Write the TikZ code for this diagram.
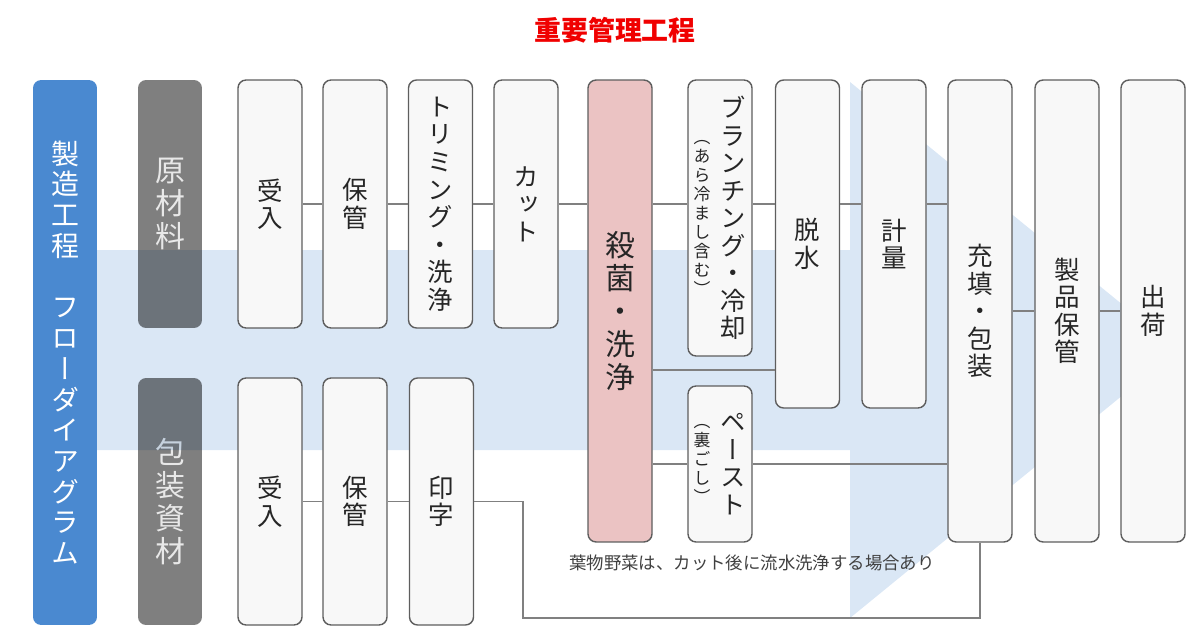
\documentclass[tikz,border=0pt]{standalone}
\usepackage{fontspec}
\setmainfont{Noto Sans CJK JP}
\newfontfamily\tatefont[RawFeature=+vert]{Noto Sans CJK JP}
\definecolor{flowblue}{HTML}{4A89D0}
\definecolor{catgray}{HTML}{7F7F7F}
\definecolor{cattext}{HTML}{E8E8E8}
\definecolor{arrowblue}{HTML}{DAE7F5}
\definecolor{boxfill}{HTML}{F8F8F8}
\definecolor{boxline}{HTML}{5E5E5E}
\definecolor{ccppink}{HTML}{EBC3C3}
\definecolor{linegray}{HTML}{808080}
\definecolor{notegray}{HTML}{404040}
\definecolor{titlered}{HTML}{F00000}
\makeatletter
\def\tate@loop#1{\ifx\relax#1\else\hbox to 1em{\hss#1\hss}\expandafter\tate@loop\fi}
\newcommand\tate[2][1.08]{\vbox{\tatefont\baselineskip=#1em\lineskiplimit=-\maxdimen\lineskip=0pt\tate@loop#2\relax}}
\makeatother
\newcommand\tatepair[2]{$\vcenter{\hbox{\fontsize{9.6pt}{10pt}\selectfont\tate[1.12]{#2}}}$\kern6pt$\vcenter{\hbox{\tate{#1}}}$}
\begin{document}
\begin{tikzpicture}[x=0.02cm, y=-0.02cm,
		procbox/.style={rectangle, draw=boxline, fill=boxfill, line width=0.8pt, rounded corners=1.6mm, minimum width=1.28cm, inner sep=0pt, text=black!85, font=\fontsize{14.5pt}{16pt}\selectfont},
		ccpbox/.style={procbox, fill=ccppink, font=\fontsize{17pt}{18pt}\selectfont},
		catbox/.style={rectangle, fill=catgray, rounded corners=1.6mm, minimum width=1.28cm, inner sep=0pt, text=cattext, font=\fontsize{17pt}{18pt}\selectfont},
		flowbar/.style={rectangle, fill=flowblue, rounded corners=1.6mm, minimum width=1.28cm, inner sep=0pt, text=white, font=\fontsize{15.9pt}{17pt}\selectfont},
		link/.style={draw=linegray, line width=0.7pt}]
		\useasboundingbox (0,0) rectangle (1200,635);
		\node[text=titlered, font=\bfseries\fontsize{15.3pt}{16pt}\selectfont] (title) at (615,30) {重要管理工程};
		
		\node[flowbar, minimum height=10.9cm] (flow) at (65,352.5) {\tate[1.1]{製造工程　フローダイアグラム}};
		\node[catbox, minimum height=4.96cm] (genzai) at (170,204) {\tate[1.1]{原材料}};
		\node[catbox, minimum height=4.94cm] (hoso) at (170,501.5) {\tate[1.1]{包装資材}};
		\fill[arrowblue, blend mode=multiply] (97,250) -- (850,250) -- (850,82) -- (1178,350) -- (850,618) -- (850,450) -- (97,450) -- cycle;
		
		\node[procbox, minimum height=4.96cm] (ukeire1) at (270,204) {\tate{受入}};
		\node[procbox, minimum height=4.96cm] (hokan1) at (355,204) {\tate{保管}};
		\node[procbox, minimum height=4.96cm] (trim) at (440.5,204) {\tate{トリミング・洗浄}};
		\node[procbox, minimum height=4.96cm] (cut) at (526,204) {\tate{カット}};
		\node[ccpbox, minimum height=9.24cm] (sakkin) at (620,311) {\tate[1.1]{殺菌・洗浄}};
		\node[procbox, minimum height=5.52cm] (blanch) at (720,218) {\tatepair{ブランチング・冷却}{（あら冷まし含む）}};
		\node[procbox, minimum height=3.12cm] (paste) at (720,464) {\tatepair{ペースト}{（裏ごし）}};
		\node[procbox, minimum height=6.56cm] (dassui) at (807.5,244) {\tate{脱水}};
		\node[procbox, minimum height=6.56cm] (keiryo) at (894,244) {\tate{計量}};
		\node[procbox, minimum height=9.24cm] (juten) at (980,311) {\tate{充填・包装}};
		\node[procbox, minimum height=9.24cm] (seihin) at (1067,311) {\tate{製品保管}};
		\node[procbox, minimum height=9.24cm] (shukka) at (1153,311) {\tate{出荷}};
		
		\node[procbox, minimum height=4.94cm] (ukeire2) at (270,501.5) {\tate{受入}};
		\node[procbox, minimum height=4.94cm] (hokan2) at (355,501.5) {\tate{保管}};
		\node[procbox, minimum height=4.94cm] (inji) at (441.5,501.5) {\tate{印字}};
		
		\node[text=notegray, font=\fontsize{9.9pt}{11pt}\selectfont] (note) at (752,563) {葉物野菜は、カット後に流水洗浄する場合あり};
		\coordinate (lowtap) at (700,370);
		\coordinate (wrap) at (523,618);
		
		\path[link] (ukeire1.east) -- (hokan1.west);
		\path[link] (hokan1.east) -- (trim.west);
		\path[link] (trim.east) -- (cut.west);
		\path[link] (cut.east) -- (sakkin.west |- cut.east);
		\path[link] (sakkin.east |- cut.east) -- (blanch.west |- cut.east);
		\path[link] (blanch.east |- cut.east) -- (dassui.west |- cut.east);
		\path[link] (dassui.east |- cut.east) -- (keiryo.west |- cut.east);
		\path[link] (keiryo.east |- cut.east) -- (juten.west |- cut.east);
		\path[link] (sakkin.east |- lowtap) -- (dassui.west |- lowtap);
		\path[link] (sakkin.east |- paste.west) -- (paste.west);
		\path[link] (paste.east) -- (juten.west |- paste.east);
		\path[link] (juten.east) -- (seihin.west);
		\path[link] (seihin.east) -- (shukka.west);
		\path[link] (ukeire2.east) -- (hokan2.west);
		\path[link] (hokan2.east) -- (inji.west);
		\path[link] (inji.east) -| (wrap) -| (juten.south);
		
	\end{tikzpicture}
\end{document}
